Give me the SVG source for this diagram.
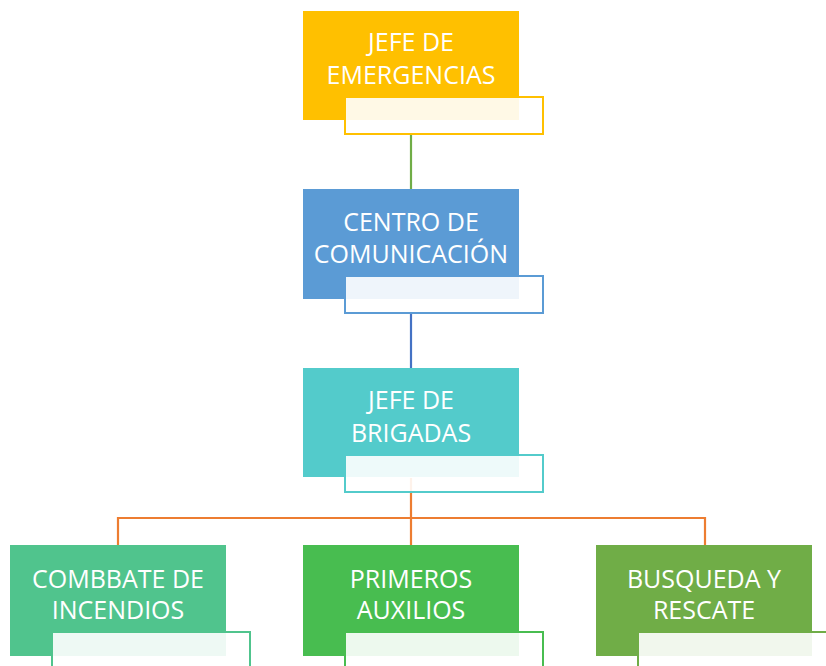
<svg xmlns="http://www.w3.org/2000/svg" width="826" height="666" viewBox="0 0 826 666">
<style>
.t{font-family:"Open Sans","Liberation Sans",sans-serif;font-size:25px;fill:#fff;text-anchor:middle}
.f{fill:#fff;fill-opacity:0.9;stroke-width:2}
.c{fill:none;stroke-width:2.2}
</style>
<rect width="826" height="666" fill="#fff"/>
<g id="connectors">
<line class="c" x1="411" y1="134" x2="411" y2="189" stroke="#70AD47"/>
<line class="c" x1="411" y1="313" x2="411" y2="368" stroke="#4472C4"/>
<path class="c" d="M411 478V545M118 545V518H705V545" stroke="#ED7D31"/>
</g>
<g id="n1">
<rect x="303" y="11" width="216" height="109" fill="#FFC000"/>
<rect class="f" x="345" y="97" width="198" height="37" stroke="#FFC000"/>
<text class="t" x="411" y="51">JEFE DE</text>
<text class="t" x="411" y="84">EMERGENCIAS</text>
</g>
<g id="n2">
<rect x="303" y="189" width="216" height="110" fill="#5B9BD5"/>
<rect class="f" x="345" y="276" width="198" height="37" stroke="#5B9BD5"/>
<text class="t" x="411" y="231">CENTRO DE</text>
<text class="t" x="411" y="263">COMUNICACIÓN</text>
</g>
<g id="n3">
<rect x="303" y="368" width="216" height="109" fill="#53CBCB"/>
<rect class="f" x="345" y="455" width="198" height="37" stroke="#53CBCB"/>
<text class="t" x="411" y="409">JEFE DE</text>
<text class="t" x="411" y="442">BRIGADAS</text>
</g>
<g id="n4">
<rect x="10" y="545" width="216" height="111" fill="#50C48D"/>
<rect class="f" x="52" y="632" width="198" height="37" stroke="#50C48D"/>
<text class="t" x="118" y="588">COMBBATE DE</text>
<text class="t" x="118" y="619">INCENDIOS</text>
</g>
<g id="n5">
<rect x="303" y="545" width="216" height="111" fill="#48BD50"/>
<rect class="f" x="345" y="632" width="198" height="37" stroke="#48BD50"/>
<text class="t" x="411" y="588">PRIMEROS</text>
<text class="t" x="411" y="619">AUXILIOS</text>
</g>
<g id="n6">
<rect x="596" y="545" width="216" height="111" fill="#70AD47"/>
<rect class="f" x="638" y="632" width="198" height="37" stroke="#70AD47"/>
<text class="t" x="704" y="588">BUSQUEDA Y</text>
<text class="t" x="704" y="619">RESCATE</text>
</g>
</svg>
